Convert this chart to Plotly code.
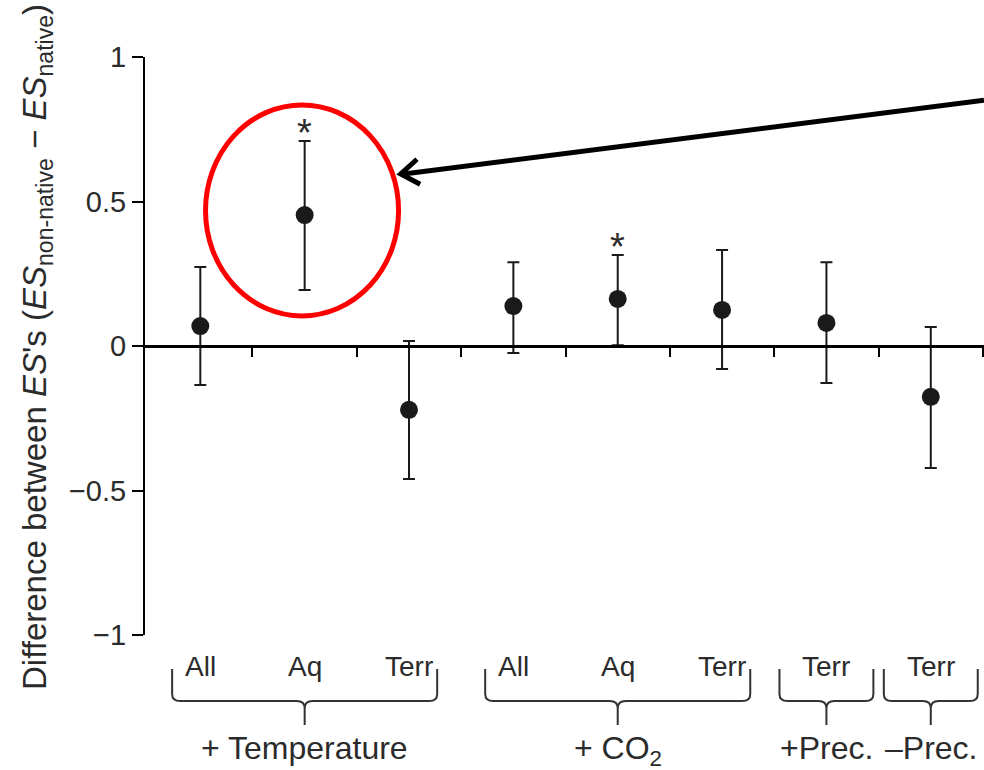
import math
import plotly.graph_objects as go

# Effect-size differences (non-native minus native) with 95% CIs
categories = ["All", "Aq", "Terr", "All", "Aq", "Terr", "Terr", "Terr"]
mean = [0.069, 0.453, -0.221, 0.138, 0.163, 0.125, 0.080, -0.176]
ci_low = [-0.135, 0.194, -0.460, -0.024, 0.003, -0.080, -0.128, -0.422]
ci_high = [0.273, 0.709, 0.017, 0.290, 0.315, 0.332, 0.290, 0.066]
significant = [False, True, False, False, True, False, False, False]

group_labels = ["+ Temperature", "+ CO<sub>2</sub>", "+Prec.", "–Prec."]
group_sizes = [3, 3, 1, 1]

y_ticks = [-1, -0.5, 0, 0.5, 1]
y_ticktext = ["−1", "−0.5", "0", "0.5", "1"]

highlight_index = 1

# ---- layout geometry ----
W, H = 984, 770
ML, MR, MT, MB = 145, 0, 57, 135
PW, PH = W - ML - MR, H - MT - MB
XR = [0.47, 8.51]
YR = [-1, 1]
FONT = "Arial, Liberation Sans, sans-serif"
INK = "#1a1a1a"
TXT = "#2b2b2b"

x = list(range(1, len(categories) + 1))


def px_x(v):
    return ML + (v - XR[0]) / (XR[1] - XR[0]) * PW


def px_y(v):
    return MT + (YR[1] - v) / (YR[1] - YR[0]) * PH


def paper_x(p):
    return (p - ML) / PW


def paper_y(p):
    return (MT + PH - p) / PH


unit_x = PW / (XR[1] - XR[0])

fig = go.Figure()
fig.add_trace(go.Scatter(
    x=x, y=mean, mode="markers",
    marker=dict(size=18, color=INK),
    error_y=dict(type="data", symmetric=False,
                 array=[h - m for h, m in zip(ci_high, mean)],
                 arrayminus=[m - l for m, l in zip(mean, ci_low)],
                 color=INK, thickness=2, width=6),
    cliponaxis=False, showlegend=False, hoverinfo="skip",
))

annotations = []
shapes = []

# significance stars
for xi, hi, sig in zip(x, ci_high, significant):
    if sig:
        annotations.append(dict(x=xi, y=hi, xref="x", yref="y", text="*",
                                showarrow=False, yanchor="bottom", yshift=-15,
                                font=dict(family=FONT, size=38, color=TXT)))

# category labels
for xi, c in zip(x, categories):
    annotations.append(dict(x=xi, y=0, xref="x", yref="paper", text=c,
                            showarrow=False, yanchor="top", yshift=-14,
                            font=dict(family=FONT, size=28, color=TXT)))

# group braces and labels
y_top = paper_y(669)
y_q = paper_y(694)
y_h = paper_y(701)
y_m = paper_y(708)
y_s = paper_y(725)
rx = 8 / unit_x
start = 1
for label, n in zip(group_labels, group_sizes):
    first, last = start, start + n - 1
    pad = 0.27 if n > 1 else 0.45
    xl, xr = first - pad, last + pad
    xc = (first + last) / 2
    path = (f"M {xl},{y_top} L {xl},{y_q} Q {xl},{y_h} {xl + rx},{y_h} "
            f"L {xc - rx},{y_h} Q {xc},{y_h} {xc},{y_m} L {xc},{y_s} "
            f"M {xc},{y_m} Q {xc},{y_h} {xc + rx},{y_h} "
            f"L {xr - rx},{y_h} Q {xr},{y_h} {xr},{y_q} L {xr},{y_top}")
    shapes.append(dict(type="path", path=path, xref="x", yref="paper",
                       line=dict(color="#333333", width=2)))
    annotations.append(dict(x=xc, y=0, xref="x", yref="paper", text=label,
                            showarrow=False, yanchor="top", yshift=-93,
                            font=dict(family=FONT, size=32, color=TXT)))
    start += n

# y-axis title
annotations.append(dict(
    x=0, y=0.5, xref="paper", yref="paper", xshift=37 - ML, yshift=-1,
    text=("Difference between <i>ES</i>'s (<i>ES</i><sub>non-native</sub> − "
          "<i>ES</i><sub>native</sub>)"),
    textangle=-90, showarrow=False, xanchor="center", yanchor="middle",
    font=dict(family=FONT, size=33, color=TXT)))

# red highlight ellipse around the emphasised estimate
hx = x[highlight_index]
shapes.append(dict(type="circle", xref="x", yref="y",
                   x0=hx - 0.95, x1=hx + 0.90,
                   y0=ci_low[highlight_index] - 0.09,
                   y1=ci_high[highlight_index] + 0.125,
                   line=dict(color="#ff0000", width=5)))

# pointer arrow from the right edge to the ellipse
tip = (px_x(hx + 0.92), px_y(0.595))
tail = (W, px_y(0.85))
ang = math.atan2(tail[1] - tip[1], tail[0] - tip[0])
arm = 22
a1 = (tip[0] + arm * math.cos(ang - math.radians(35)),
      tip[1] + arm * math.sin(ang - math.radians(35)))
a2 = (tip[0] + arm * math.cos(ang + math.radians(35)),
      tip[1] + arm * math.sin(ang + math.radians(35)))
shapes.append(dict(type="line", xref="paper", yref="paper",
                   x0=paper_x(tip[0] + 3), y0=paper_y(tip[1]),
                   x1=paper_x(tail[0]), y1=paper_y(tail[1]),
                   line=dict(color="black", width=5)))
shapes.append(dict(type="path", xref="paper", yref="paper",
                   path=(f"M {paper_x(a1[0])},{paper_y(a1[1])} "
                         f"L {paper_x(tip[0])},{paper_y(tip[1])} "
                         f"L {paper_x(a2[0])},{paper_y(a2[1])}"),
                   line=dict(color="black", width=5)))

mid_ticks = [v + 0.5 for v in x]

fig.update_layout(
    width=W, height=H,
    margin=dict(l=ML, r=MR, t=MT, b=MB, pad=0),
    paper_bgcolor="white", plot_bgcolor="white",
    showlegend=False,
    xaxis=dict(range=XR, anchor="free", position=0.5,
               showline=True, linecolor="black", linewidth=3,
               ticks="outside", tickvals=mid_ticks, ticklen=9, tickwidth=2,
               tickcolor="black", showticklabels=False,
               showgrid=False, zeroline=False, fixedrange=True),
    yaxis=dict(range=YR, tickvals=y_ticks, ticktext=y_ticktext,
               showline=True, linecolor="black", linewidth=2,
               ticks="outside", ticklen=11, tickwidth=2, tickcolor="black",
               tickfont=dict(family=FONT, size=29, color=TXT),
               showgrid=False, zeroline=False, fixedrange=True),
    annotations=annotations,
    shapes=shapes,
)

fig.write_html("out.html")
